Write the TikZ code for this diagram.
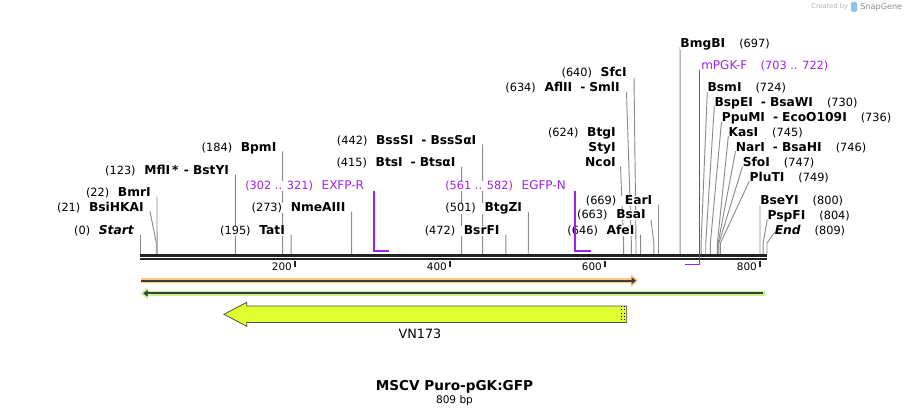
\documentclass[tikz,border=0pt]{standalone}
\usepackage{fontspec}
\setmainfont{DejaVu Sans}
\usetikzlibrary{positioning,arrows.meta,calc,backgrounds}
\definecolor{cutLine}{RGB}{140,140,140}
\definecolor{primer}{RGB}{160,32,240}
\definecolor{seqDark}{RGB}{34,34,34}
\definecolor{fOrange}{RGB}{255,201,120}
\definecolor{fGreen}{RGB}{192,245,140}
\definecolor{fYellow}{RGB}{224,255,48}
\definecolor{fDark}{RGB}{60,60,60}
\definecolor{logoBlue}{RGB}{142,197,232}
\pgfmathdeclarefunction{seqx}{1}{\pgfmathparse{140+0.775*#1}}
\newcommand\ename[1]{{\fontsize{9.2}{11}\selectfont\bfseries #1}}
\newcommand\pname[1]{{\fontsize{9}{11}\selectfont #1}}
\tikzset{
  siteL/.style={anchor=base east, inner sep=0pt, fill=white, font=\fontsize{8.5}{10}\selectfont},
  siteR/.style={anchor=base west, inner sep=0pt, fill=white, font=\fontsize{8.5}{10}\selectfont},
  primL/.style={siteL, text=primer},
  primR/.style={siteR, text=primer},
  cut/.style={draw=cutLine, line width=0.7pt},
  primerLine/.style={draw=primer, line width=1.4pt},
  tick/.style={draw=seqDark, line width=1.1pt},
  tickLbl/.style={anchor=base east, inner sep=0pt, font=\fontsize{7.8}{9}\selectfont},
  strand/.style={draw=seqDark, line width=#1},
}
\begin{document}
\begin{tikzpicture}[x=0.75pt, y=-0.75pt]
  \useasboundingbox (0,0) rectangle (909,417);
  % sequence backbone
  \coordinate (seqL) at (140,255.3);
  \coordinate (seqR) at (767,255.3);
  \draw[strand=1.9pt] (seqL) -- (seqR);
  \draw[strand=1.5pt] ($(seqL)+(0,4)$) -- ($(seqR)+(0,4)$);
  \foreach \p in {0,21,22,123,184,195,273,415,442,472,501,624,634,640,646,663,669,697,724,730,736,745,746,747,749,800,804,809}
    \coordinate (c\p) at ({seqx(\p)},254);
  % ruler
  \foreach \t in {200,400,600,800}{
    \coordinate (t\t) at ({seqx(\t)},261);
    \draw[tick] (t\t) -- ++(0,6);
    \node[tickLbl] (l\t) at ($(t\t)+(-3,9.5)$) {\t};
  }

  % sites left of their cut line
  \node[siteL] (start)   at (134,234.5)   {(0)\hspace{6.5pt}\ename{\itshape Start}};
  \node[siteL] (bsihkai) at (144,211.2)   {(21)\hspace{6.5pt}\ename{BsiHKAI}};
  \node[siteL] (bmri)    at (151,196.5)   {(22)\hspace{6.5pt}\ename{BmrI}};
  \node[siteL] (mfli)    at (229.3,174.5) {(123)\hspace{6.5pt}\ename{MflI\,*\hspace{4pt}-\hspace{3pt}BstYI}};
  \node[siteL] (bpmi)    at (276.6,151.5) {(184)\hspace{6.5pt}\ename{BpmI}};
  \node[siteL] (tati)    at (285.1,234.5) {(195)\hspace{6.5pt}\ename{TatI}};
  \node[siteL] (nmeaiii) at (345.6,211.8) {(273)\hspace{6.5pt}\ename{NmeAIII}};
  \node[primL] (exfpr)   at (364.3,189.5) {(302 .. 321)\hspace{6.5pt}\pname{EXFP-R}};
  \node[siteL] (btsi)    at (455.6,166.8) {(415)\hspace{6.5pt}\ename{BtsI\hspace{6pt}-\hspace{3pt}BtsαI}};
  \node[siteL] (bsssi)   at (476.6,144.5) {(442)\hspace{6.5pt}\ename{BssSI\hspace{6pt}-\hspace{3pt}BssSαI}};
  \node[siteL] (bsrfi)   at (499.8,234.5) {(472)\hspace{6.5pt}\ename{BsrFI}};
  \node[siteL] (btgzi)   at (522.3,211.8) {(501)\hspace{6.5pt}\ename{BtgZI}};
  \node[primL] (egfpn)   at (566,189.5)   {(561 .. 582)\hspace{6.5pt}\pname{EGFP-N}};
  \node[siteL] (btgi)    at (616,136.2)   {(624)\hspace{6.5pt}\ename{BtgI}};
  \node[siteL] (styi)    at (616,151.2)   {\ename{StyI}};
  \node[siteL] (ncoi)    at (616,166.5)   {\ename{NcoI}};
  \node[siteL] (aflii)   at (620,91.2)    {(634)\hspace{6.5pt}\ename{AflII\hspace{6pt}-\hspace{3pt}SmlI}};
  \node[siteL] (sfci)    at (627,76.5)    {(640)\hspace{6.5pt}\ename{SfcI}};
  \node[siteL] (afei)    at (634.6,234.5) {(646)\hspace{6.5pt}\ename{AfeI}};
  \node[siteL] (bsai)    at (646,218.8)   {(663)\hspace{6.5pt}\ename{BsaI}};
  \node[siteL] (eari)    at (652.5,204.5) {(669)\hspace{6.5pt}\ename{EarI}};
  % sites right of their cut line
  \node[siteR] (bmgbi)   at (680.2,47.2)  {\ename{BmgBI}\hspace{10.5pt}(697)};
  \node[primR] (mpgkf)   at (701,69.5)    {\pname{mPGK-F}\hspace{10pt}(703 .. 722)};
  \node[siteR] (bsmi)    at (707.3,91.8)  {\ename{BsmI}\hspace{10.5pt}(724)};
  \node[siteR] (bspei)   at (714.3,106.2) {\ename{BspEI\hspace{6pt}-\hspace{3pt}BsaWI}\hspace{10.5pt}(730)};
  \node[siteR] (ppumi)   at (721.5,121.8) {\ename{PpuMI\hspace{6pt}-\hspace{3pt}EcoO109I}\hspace{10.5pt}(736)};
  \node[siteR] (kasi)    at (728.3,136.2) {\ename{KasI}\hspace{10.5pt}(745)};
  \node[siteR] (nari)    at (735.5,151.2) {\ename{NarI\hspace{6pt}-\hspace{3pt}BsaHI}\hspace{10.5pt}(746)};
  \node[siteR] (sfoi)    at (742.5,166.5) {\ename{SfoI}\hspace{10.5pt}(747)};
  \node[siteR] (pluti)   at (749.3,181.2) {\ename{PluTI}\hspace{10.5pt}(749)};
  \node[siteR] (bseyi)   at (760,204.5)   {\ename{BseYI}\hspace{10.5pt}(800)};
  \node[siteR] (pspfi)   at (767.3,219.5) {\ename{PspFI}\hspace{10.5pt}(804)};
  \node[siteR] (endl)    at (774.5,234.5) {\ename{\itshape End}\hspace{10.5pt}(809)};

  % cut lines, behind the labels
  \begin{scope}[on background layer]
  \draw[cut] ($(start.base east)+(6,0)$)   -- (c0);
  \draw[cut] ($(bsihkai.base east)+(6,0)$) -- ($(c21)+(0,-11)$) -- (c21);
  \draw[cut] ($(bmri.base east)+(6,0)$)    -- (c22);
  \draw[cut] ($(mfli.base east)+(6,0)$)    -- (c123);
  \draw[cut] ($(bpmi.base east)+(6,0)$)    -- (c184);
  \draw[cut] ($(tati.base east)+(6,0)$)    -- (c195);
  \draw[cut] ($(nmeaiii.base east)+(6,0)$) -- (c273);
  \draw[cut] ($(btsi.base east)+(6,0)$)    -- (c415);
  \draw[cut] ($(bsssi.base east)+(6,0)$)   -- (c442);
  \draw[cut] ($(bsrfi.base east)+(6,0)$)   -- (c472);
  \draw[cut] ($(btgzi.base east)+(6,0)$)   -- (c501);
  \draw[cut] ($(ncoi.base east)+(4.5,0)$)  -- ($(c624)+(0,-11)$) -- (c624);
  \draw[cut] ($(aflii.base east)+(6.5,1)$) -- ($(c634)+(0,-11)$) -- (c634);
  \draw[cut] ($(sfci.base east)+(7,1)$)    -- ($(c640)+(0,-11)$) -- (c640);
  \draw[cut] ($(afei.base east)+(6,0)$)    -- (c646);
  \draw[cut] ($(bsai.base east)+(5,1)$)    -- ($(c663)+(0,-11)$) -- (c663);
  \draw[cut] ($(eari.base east)+(6,0)$)    -- (c669);
  \draw[cut] (bmgbi.base west) -- (c697);
  \draw[cut] (bsmi.base west)  -- ($(c724)+(0,-11)$) -- (c724);
  \draw[cut] (bspei.base west) -- ($(c730)+(0,-11)$) -- (c730);
  \draw[cut] (ppumi.base west) -- ($(c736)+(0,-11)$) -- (c736);
  \draw[cut] (kasi.base west)  -- ($(c745)+(0,-11)$) -- (c745);
  \draw[cut] (nari.base west)  -- ($(c746)+(0,-11)$) -- (c746);
  \draw[cut] (sfoi.base west)  -- ($(c747)+(0,-11)$) -- (c747);
  \draw[cut] (pluti.base west) -- ($(c749)+(0,-11)$) -- (c749);
  \draw[cut] (bseyi.base west) -- (c800);
  \draw[cut] (pspfi.base west) -- ($(c804)+(0,-11)$) -- (c804);
  \draw[cut] ($(endl.base west)+(0,-2)$) -- ($(c809)+(0,-11)$) -- (c809);
  \end{scope}

  % primers
  \coordinate (p302) at ({seqx(302)},191);
  \coordinate (p302b) at ({seqx(302)},251);
  \coordinate (p321b) at ({seqx(321)},251);
  \draw[primerLine] (p302) -- (p302b) -- (p321b);
  \coordinate (p561) at ({seqx(561)},191);
  \coordinate (p561b) at ({seqx(561)},251);
  \coordinate (p582b) at ({seqx(582)},251);
  \draw[primerLine] (p561) -- (p561b) -- (p582b);
  \coordinate (p722) at ({seqx(722)},70);
  \coordinate (p722b) at ({seqx(722)},264.5);
  \coordinate (p703b) at ({seqx(703)},264.5);
  \draw[primerLine, line width=1.1pt] (p722) -- (p722b);
  \draw[primerLine] (p722b) -- (p703b);

  % features
  \coordinate (o1) at (140.7,280.7);
  \coordinate (o2) at (638.3,280.7);
  \draw[draw=fOrange, line width=4pt, -{Triangle[length=5.5pt,width=9pt]}] (o1) -- (o2);
  \draw[draw=fDark, line width=1.3pt, -{Triangle[length=3.3pt,width=5pt]}] (o1) -- ($(o2)+(-2.3,0)$);
  \coordinate (g1) at (141,293.3);
  \coordinate (g2) at (765,293.3);
  \draw[draw=fGreen, line width=4pt, {Triangle[length=5pt,width=9pt]}-] (g1) -- (g2);
  \draw[draw=fDark, line width=1.3pt, {Triangle[length=3.3pt,width=5pt]}-] ($(g1)+(2.3,0)$) -- ($(g2)+(-2,0)$);
  \draw[draw=fDark!90, line width=0.6pt, fill=fYellow, line join=miter]
    (224,314.3) -- (246.7,302.3) -- (246.7,306) -- (626.7,306) -- (626.7,322.5)
    -- (246.7,322.5) -- (246.7,326.3) -- cycle;
  \draw[black, line width=0.5pt, dotted] (621.8,306) -- (621.8,322.5);
  \draw[black, line width=0.5pt, dotted] (624.8,306) -- (624.8,322.5);
  \node[font=\fontsize{9.6}{11}\selectfont] (vn173) at (420,333.5) {VN173};

  % title
  \node[font=\fontsize{10.2}{12}\selectfont\bfseries] (title) at (454.5,386.5) {MSCV Puro-pGK:GFP};
  \node[font=\fontsize{7.9}{9}\selectfont] (len) at (454.5,400.7) {809 bp};
  % credit
  \node[anchor=east, inner sep=0pt, text=black!30, font=\fontsize{5}{6}\selectfont] (made) at (848.3,7) {Created by};
  \fill[logoBlue, rounded corners=1pt] (851,2) rectangle (857,12);
  \node[anchor=west, inner sep=0pt, text=black!45, font=\fontsize{6.1}{7}\selectfont] (sg) at (860,7) {SnapGene};
\end{tikzpicture}
\end{document}
